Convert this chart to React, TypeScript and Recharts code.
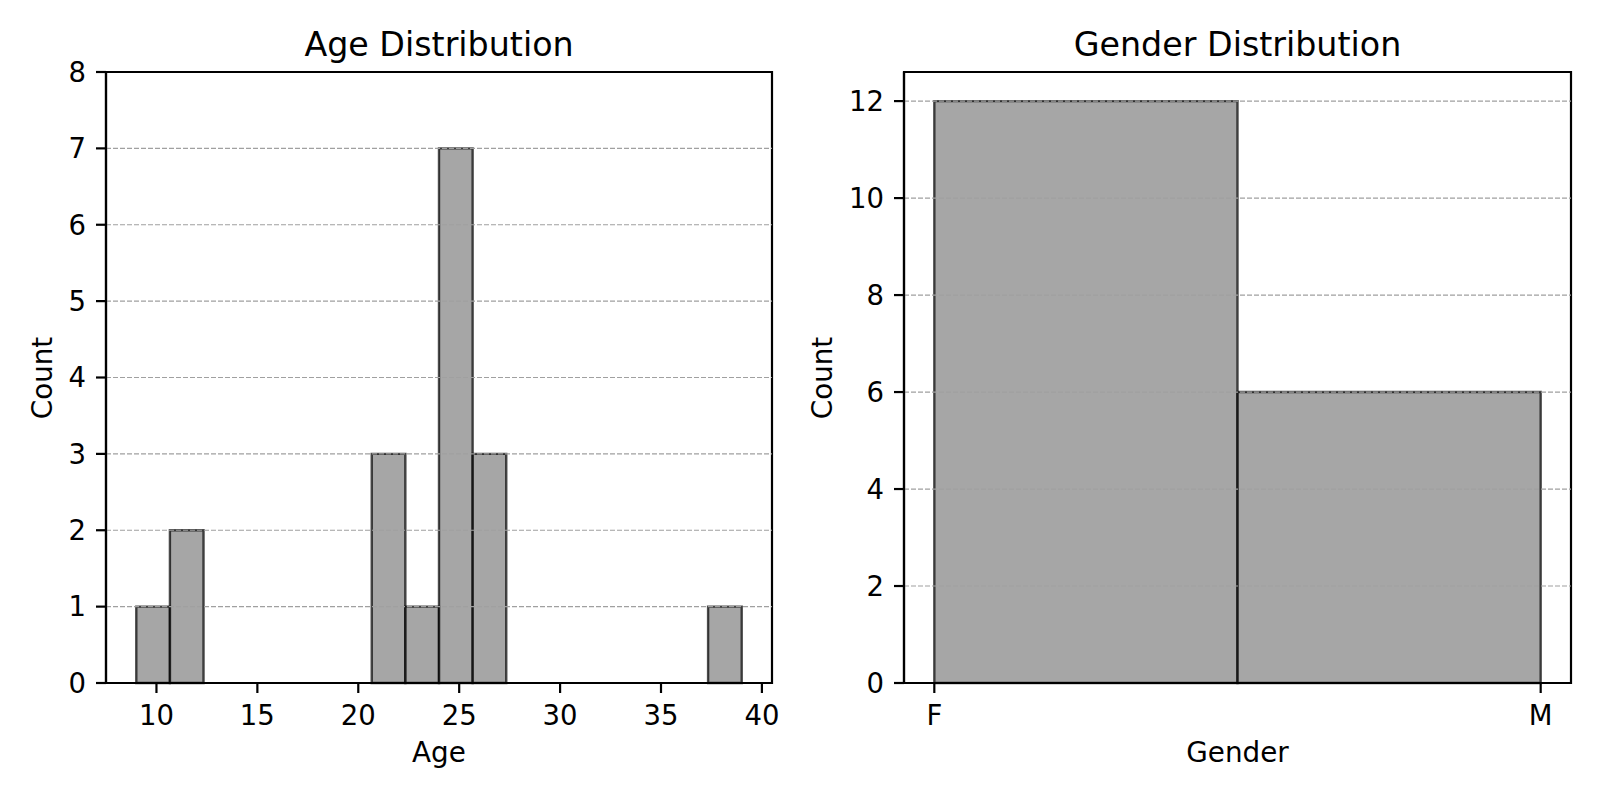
import React from "react";
import {
  ComposedChart,
  XAxis,
  YAxis,
  Scatter,
  ReferenceArea,
  ReferenceLine,
} from "recharts";

// age histogram: 18 bins between 9 and 39
const AGE_BIN_EDGES = [
  9, 10.667, 12.333, 14, 15.667, 17.333, 19, 20.667, 22.333, 24, 25.667,
  27.333, 29, 30.667, 32.333, 34, 35.667, 37.333, 39,
];
const AGE_COUNTS = [1, 2, 0, 0, 0, 0, 0, 3, 1, 7, 3, 0, 0, 0, 0, 0, 0, 1];
const AGE_X_TICKS = [10, 15, 20, 25, 30, 35, 40];
const AGE_Y_TICKS = [0, 1, 2, 3, 4, 5, 6, 7, 8];

// gender histogram: F = 0, M = 1, two bins
const GENDER_LABELS = ["F", "M"];
const GENDER_BIN_EDGES = [0, 0.5, 1];
const GENDER_COUNTS = [12, 6];
const GENDER_X_TICKS = [0, 1];
const GENDER_Y_TICKS = [0, 2, 4, 6, 8, 10, 12];

const FONT = "'DejaVu Sans', sans-serif";
const TICK = { fill: "#000", fontSize: 27.5, fontFamily: FONT };
const AXIS = { stroke: "#000", strokeWidth: 2.2 };

interface HistProps {
  edges: number[];
  counts: number[];
  xDomain: [number, number];
  yDomain: [number, number];
  xTicks: number[];
  yTicks: number[];
  xFormat?: (v: number) => string;
  margin: { top: number; right: number; bottom: number; left: number };
}

function Histogram({ edges, counts, xDomain, yDomain, xTicks, yTicks, xFormat, margin }: HistProps) {
  const points = counts.map((c, i) => ({ x: (edges[i] + edges[i + 1]) / 2, y: c }));
  // grid lines strictly inside the plot (the spines cover the ends)
  const gridTicks = yTicks.filter((t) => t > yDomain[0] && t < yDomain[1]);
  return (
    <ComposedChart width={800} height={800} margin={margin}>
      <XAxis
        dataKey="x"
        type="number"
        domain={xDomain}
        ticks={xTicks}
        allowDataOverflow
        interval={0}
        tickFormatter={xFormat}
        tick={TICK}
        axisLine={AXIS}
        tickLine={AXIS}
        tickSize={10}
        tickMargin={12}
        height={60}
      />
      <YAxis
        dataKey="y"
        type="number"
        domain={yDomain}
        ticks={yTicks}
        allowDataOverflow
        interval={0}
        tick={TICK}
        axisLine={AXIS}
        tickLine={AXIS}
        tickSize={10}
        tickMargin={10}
        width={70}
      />
      <Scatter data={points} shape={() => <g />} isAnimationActive={false} />
      {counts.map((c, i) =>
        c > 0 ? (
          <ReferenceArea
            key={"b" + i}
            x1={edges[i]}
            x2={edges[i + 1]}
            y1={0}
            y2={c}
            fill="#808080"
            fillOpacity={0.7}
            stroke="#000"
            strokeOpacity={0.7}
            strokeWidth={2.4}
          />
        ) : null
      )}
      {gridTicks.map((t) => (
        <ReferenceLine key={"g" + t} y={t} stroke="#a0a0a0" strokeWidth={1.2} strokeDasharray="5 2" />
      ))}
      {/* axes frame (all four spines) */}
      <ReferenceArea
        x1={xDomain[0]}
        x2={xDomain[1]}
        y1={yDomain[0]}
        y2={yDomain[1]}
        fill="none"
        stroke="#000"
        strokeWidth={2.2}
      />
    </ComposedChart>
  );
}

export default function App() {
  const txt = { fontFamily: FONT, fill: "#000" };
  return (
    <div style={{ position: "absolute", left: 0, top: 0, width: 1600, height: 800, background: "#fff" }}>
      <div style={{ position: "absolute", left: 0, top: 0 }}>
        <Histogram
          edges={AGE_BIN_EDGES}
          counts={AGE_COUNTS}
          xDomain={[7.5, 40.5]}
          yDomain={[0, 8]}
          xTicks={AGE_X_TICKS}
          yTicks={AGE_Y_TICKS}
          margin={{ top: 72, right: 28, bottom: 57, left: 36 }}
        />
      </div>
      <div style={{ position: "absolute", left: 800, top: 0 }}>
        <Histogram
          edges={GENDER_BIN_EDGES}
          counts={GENDER_COUNTS}
          xDomain={[-0.05, 1.05]}
          yDomain={[0, 12.6]}
          xTicks={GENDER_X_TICKS}
          yTicks={GENDER_Y_TICKS}
          xFormat={(v) => GENDER_LABELS[v] ?? ""}
          margin={{ top: 72, right: 29, bottom: 57, left: 34 }}
        />
      </div>
      <svg width={1600} height={800} style={{ position: "absolute", left: 0, top: 0, pointerEvents: "none" }}>
        <text x={439} y={56} textAnchor="middle" fontSize={33.3} style={txt}>Age Distribution</text>
        <text x={439} y={762} textAnchor="middle" fontSize={27.8} style={txt}>Age</text>
        <text transform="translate(52,378) rotate(-90)" textAnchor="middle" fontSize={27.8} style={txt}>Count</text>
        <text x={1237.5} y={56} textAnchor="middle" fontSize={33.3} style={txt}>Gender Distribution</text>
        <text x={1237.5} y={762} textAnchor="middle" fontSize={27.8} style={txt}>Gender</text>
        <text transform="translate(832,378) rotate(-90)" textAnchor="middle" fontSize={27.8} style={txt}>Count</text>
      </svg>
    </div>
  );
}
